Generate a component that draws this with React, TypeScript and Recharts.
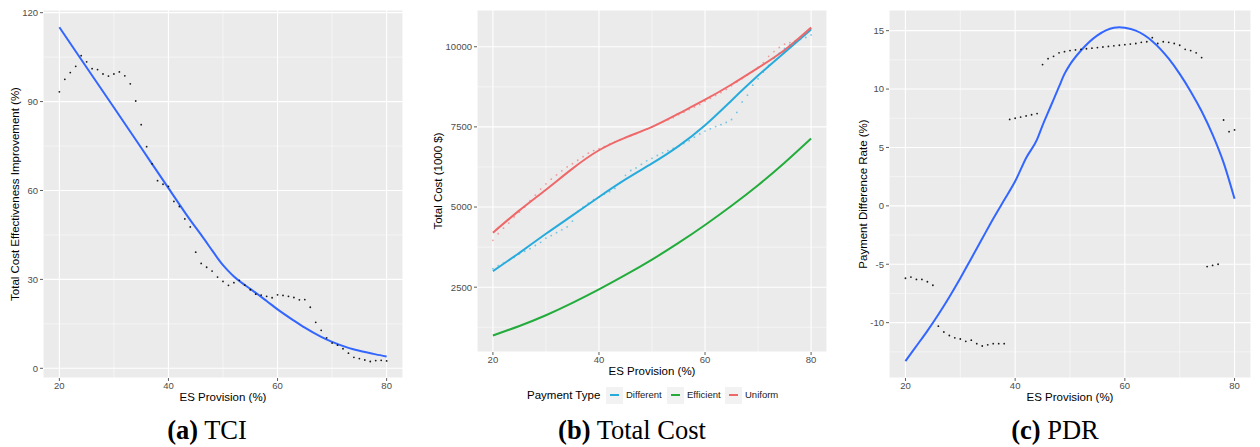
import React from 'react';
import { ComposedChart, Line, Scatter, XAxis, YAxis, CartesianGrid, Label, ReferenceLine } from 'recharts';

const SANS = '"Liberation Sans", Arial, sans-serif';
const SERIF = '"Liberation Serif", "Times New Roman", serif';

// ES provision levels (%), one observation per level
const provision = [
  20, 21, 22, 23, 24, 25, 26, 27, 28, 29, 30, 31, 32, 33, 34, 35, 36, 37, 38, 39, 40,
  41, 42, 43, 44, 45, 46, 47, 48, 49, 50, 51, 52, 53, 54, 55, 56, 57, 58, 59, 60,
  61, 62, 63, 64, 65, 66, 67, 68, 69, 70, 71, 72, 73, 74, 75, 76, 77, 78, 79, 80,
];
const provisionTicks = [20, 40, 60, 80];
const provisionMinor = [30, 50, 70];
const provisionDomain: [number, number] = [17, 83];

// (a) Total cost effectiveness improvement (%)
const tciObserved = [
  93.3, 97.5, 99.8, 101.9, 105.5, 103.4, 101.1, 100.8, 99.3, 98.6, 99.3,
  100.0, 98.7, 96.0, 90.2, 82.2, 74.8, 69.0, 63.3, 62.1, 61.4,
  56.3, 54.6, 50.4, 47.7, 39.2, 35.4, 34.1, 32.8, 30.8, 29.3,
  28.0, 28.9, 29.7, 28.1, 26.5, 25.0, 24.7, 24.3, 23.8, 24.8,
  24.6, 24.3, 23.9, 23.1, 23.2, 20.6, 15.5, 12.8, 10.3, 8.5,
  7.8, 6.6, 5.1, 3.7, 3.3, 2.8, 2.3, 2.6, 2.7, 2.5,
];
const tciSmoothX = [20, 25, 30, 35, 40, 44, 46, 48, 49, 50, 51, 52, 54, 55, 58, 60, 63, 65, 68, 70, 73, 75, 78, 80];
const tciSmooth = [115.1, 101.5, 88.0, 74.4, 60.8, 50.0, 45.0, 39.8, 37.2, 34.8, 32.8, 31.0, 28.1, 26.8, 22.7, 19.9, 16.1, 13.7, 10.6, 8.9, 6.9, 5.9, 4.7, 4.0];
const tciTicks = [0, 30, 60, 90, 120];
const tciMinor = [15, 45, 75, 105];
const tciDomain: [number, number] = [-3.27, 120.9];

// (b) Total cost (1000 $) by payment type
const paymentTypes = ['Different', 'Efficient', 'Uniform'];
const paymentColors = ['#27ABDC', '#23AC3C', '#EF6869'];
const costSmoothX = [20, 25, 30, 35, 40, 45, 50, 55, 60, 65, 70, 75, 80];
const differentSmooth = [3000, 3572, 4166, 4739, 5312, 5860, 6360, 6900, 7552, 8326, 9101, 9824, 10540];
const efficientSmooth = [992, 1290, 1625, 2010, 2430, 2880, 3360, 3880, 4440, 5040, 5680, 6380, 7135];
const uniformSmooth = [4200, 4895, 5541, 6198, 6771, 7167, 7500, 7913, 8347, 8822, 9339, 9897, 10599];
const differentObserved = [
  3080, 3170, 3250, 3340, 3430, 3540, 3620, 3700, 3800, 3900, 4030,
  4110, 4200, 4290, 4380, 4560, 4860, 5000, 5120, 5230, 5310,
  5400, 5480, 5580, 5760, 5990, 6140, 6220, 6330, 6440, 6520,
  6610, 6690, 6760, 6830, 6900, 6980, 7070, 7180, 7280, 7370,
  7440, 7510, 7570, 7640, 7730, 7950, 8280, 8490, 8800, 9000,
  9210, 9420, 9640, 9790, 9950, 10060, 10140, 10230, 10290, 10370,
];
const uniformObserved = [
  3960, 4170, 4340, 4500, 4690, 4840, 5000, 5200, 5370, 5560, 5720,
  5870, 6000, 6130, 6250, 6350, 6460, 6570, 6680, 6760, 6820,
  6880, 6960, 7030, 7100, 7170, 7230, 7290, 7360, 7430, 7500,
  7580, 7650, 7720, 7790, 7880, 7960, 8040, 8120, 8200, 8300,
  8390, 8480, 8570, 8670, 8780, 8900, 9010, 9120, 9230, 9360,
  9500, 9700, 9850, 9980, 10080, 10130, 10190, 10270, 10420, 10560,
];
const costTicks = [2500, 5000, 7500, 10000];
const costMinor = [1250, 3750, 6250, 8750];
const costDomain: [number, number] = [478, 11146];

// (c) Payment difference rate (%)
const pdrObserved = [
  -6.2, -6.1, -6.3, -6.3, -6.5, -6.8, -10.3, -10.8, -11.1, -11.3, -11.4,
  -11.6, -11.5, -11.8, -12.0, -11.9, -11.8, -11.8, -11.8, 7.4, 7.5,
  7.6, 7.7, 7.8, 7.9, 12.1, 12.6, 12.8, 13.1, 13.2, 13.3,
  13.35, 13.4, 13.45, 13.5, 13.55, 13.6, 13.65, 13.7, 13.75, 13.8,
  13.85, 13.9, 14.0, 14.05, 14.4, 13.9, 14.05, 14.0, 13.9, 13.75,
  13.4, 13.3, 13.1, 12.7, -5.2, -5.1, -5.0, 7.35, 6.35, 6.5,
];
const pdrSmoothX = [20, 22, 24, 26, 28, 30, 32, 34, 36, 38, 40, 42, 44, 45, 46, 47, 48, 49, 50, 52, 55, 58, 59, 60, 62, 65, 68, 70, 72, 74, 76, 78, 80];
const pdrSmooth = [-13.3, -12.0, -10.7, -9.3, -7.8, -6.2, -4.5, -2.8, -1.1, 0.5, 2.1, 4.1, 5.7, 6.9, 8.0, 9.1, 10.2, 11.3, 12.1, 13.3, 14.6, 15.25, 15.3, 15.25, 15.0, 14.1, 12.6, 11.3, 9.8, 8.1, 6.1, 3.7, 0.6];
const pdrTicks = [-10, -5, 0, 5, 10, 15];
const pdrMinor = [-12.5, -7.5, -2.5, 2.5, 7.5, 12.5];
const pdrDomain: [number, number] = [-14.74, 16.77];

const pairs = (xs: number[], ys: number[]) => xs.map((x, i) => ({ x, y: ys[i] }));

const SMOOTH_BLUE = '#3366FF';
const PANEL_W = 420;
const CHART_H = 410;
const PLOT_TOP = 10;

const dotShape = (color: string, r: number, opacity: number) => (props: any) => (
  <circle cx={props.cx} cy={props.cy} r={r} fill={color} fillOpacity={opacity} />
);

type PanelProps = {
  left: number;
  yAxisWidth: number;
  rightGap: number;
  plotBottom: number;
  yDomain: [number, number];
  yTicks: number[];
  yMinor: number[];
  yTitle: string;
  yTitleX: number;
  children: React.ReactNode;
};

function Panel(p: PanelProps) {
  const midY = (PLOT_TOP + p.plotBottom) / 2;
  const midX = (p.yAxisWidth + PANEL_W - p.rightGap) / 2;
  const tickStyle = { fill: '#4D4D4D', fontSize: 9.5, fontFamily: SANS };
  const tickLine = { stroke: '#333333', strokeWidth: 0.8 };
  return (
    <div style={{ position: 'absolute', left: p.left, top: 0 }}>
      <ComposedChart
        width={PANEL_W}
        height={CHART_H}
        margin={{ top: PLOT_TOP, right: p.rightGap, bottom: 0, left: 0 }}
      >
        <CartesianGrid fill="#EBEBEB" stroke="#FFFFFF" strokeWidth={1.1} />
        {provisionMinor.map((v) => (
          <ReferenceLine key={`vx${v}`} x={v} stroke="#FFFFFF" strokeWidth={0.5} />
        ))}
        {p.yMinor.map((v) => (
          <ReferenceLine key={`hy${v}`} y={v} stroke="#FFFFFF" strokeWidth={0.5} />
        ))}
        <XAxis
          type="number"
          dataKey="x"
          domain={provisionDomain}
          ticks={provisionTicks}
          allowDataOverflow
          height={CHART_H - p.plotBottom}
          tickSize={3}
          tickMargin={1}
          axisLine={false}
          tickLine={tickLine}
          tick={tickStyle}
        >
          <Label
            content={() => (
              <text
                x={midX}
                y={p.plotBottom + 19}
                textAnchor="middle"
                dominantBaseline="central"
                fontSize={11.5}
                fontFamily={SANS}
                fill="#000"
              >
                ES Provision (%)
              </text>
            )}
          />
        </XAxis>
        <YAxis
          type="number"
          dataKey="y"
          domain={p.yDomain}
          ticks={p.yTicks}
          allowDataOverflow
          width={p.yAxisWidth}
          tickSize={3}
          tickMargin={2}
          axisLine={false}
          tickLine={tickLine}
          tick={tickStyle}
        >
          <Label
            content={() => (
              <text
                x={p.yTitleX}
                y={midY}
                transform={`rotate(-90 ${p.yTitleX} ${midY})`}
                textAnchor="middle"
                dominantBaseline="central"
                fontSize={11.5}
                fontFamily={SANS}
                fill="#000"
              >
                {p.yTitle}
              </text>
            )}
          />
        </YAxis>
        {p.children}
      </ComposedChart>
    </div>
  );
}

const captionStyle: React.CSSProperties = {
  position: 'absolute',
  top: 416,
  width: 300,
  textAlign: 'center',
  fontFamily: SERIF,
  fontSize: 26.5,
  lineHeight: '28px',
  color: '#000',
  whiteSpace: 'nowrap',
};

function Caption({ center, tag, title }: { center: number; tag: string; title: string }) {
  return (
    <div style={{ ...captionStyle, left: center - 150 }}>
      <b>({tag})</b> {title}
    </div>
  );
}

const legendKeyLefts = [606, 667, 725];

function PaymentLegend() {
  return (
    <div style={{ position: 'absolute', left: 0, top: 386, width: 1260, height: 18, fontFamily: SANS }}>
      <span style={{ position: 'absolute', left: 527, top: 0, fontSize: 11.5, lineHeight: '18px', whiteSpace: 'nowrap' }}>
        Payment Type
      </span>
      {paymentTypes.map((name, i) => (
        <React.Fragment key={name}>
          <span
            style={{ position: 'absolute', left: legendKeyLefts[i], top: 0.5, width: 17, height: 17, background: '#F2F2F2' }}
          >
            <span
              style={{ position: 'absolute', left: 4, top: 7.5, width: 9, height: 2, background: paymentColors[i] }}
            />
          </span>
          <span
            style={{
              position: 'absolute',
              left: legendKeyLefts[i] + 20,
              top: 0,
              fontSize: 9.5,
              lineHeight: '18px',
              color: '#1A1A1A',
              whiteSpace: 'nowrap',
            }}
          >
            {name}
          </span>
        </React.Fragment>
      ))}
    </div>
  );
}

export default function App() {
  const differentSmoothData = pairs(costSmoothX, differentSmooth);
  const efficientSmoothData = pairs(costSmoothX, efficientSmooth);
  const uniformSmoothData = pairs(costSmoothX, uniformSmooth);
  return (
    <div style={{ position: 'absolute', left: 0, top: 0, width: 1260, height: 447, background: '#FFFFFF', overflow: 'hidden' }}>
      <Panel
        left={0}
        yAxisWidth={43}
        rightGap={17}
        plotBottom={378}
        yDomain={tciDomain}
        yTicks={tciTicks}
        yMinor={tciMinor}
        yTitle="Total Cost Effectiveness Improvement (%)"
        yTitleX={15}
      >
        <Scatter data={pairs(provision, tciObserved)} shape={dotShape('#000000', 0.9, 0.9)} isAnimationActive={false} />
        <Line
          data={pairs(tciSmoothX, tciSmooth)}
          dataKey="y"
          type="monotone"
          stroke={SMOOTH_BLUE}
          strokeWidth={2}
          dot={false}
          activeDot={false}
          isAnimationActive={false}
        />
      </Panel>

      <Panel
        left={420}
        yAxisWidth={57}
        rightGap={13}
        plotBottom={352}
        yDomain={costDomain}
        yTicks={costTicks}
        yMinor={costMinor}
        yTitle="Total Cost (1000 $)"
        yTitleX={18}
      >
        <Scatter data={pairs(provision, uniformObserved)} shape={dotShape(paymentColors[2], 0.9, 0.6)} isAnimationActive={false} />
        <Scatter data={pairs(provision, differentObserved)} shape={dotShape(paymentColors[0], 0.9, 0.6)} isAnimationActive={false} />
        <Line data={differentSmoothData} dataKey="y" type="natural" stroke={paymentColors[0]} strokeWidth={2} dot={false} activeDot={false} isAnimationActive={false} />
        <Line data={efficientSmoothData} dataKey="y" type="natural" stroke={paymentColors[1]} strokeWidth={2} dot={false} activeDot={false} isAnimationActive={false} />
        <Line data={uniformSmoothData} dataKey="y" type="natural" stroke={paymentColors[2]} strokeWidth={2} dot={false} activeDot={false} isAnimationActive={false} />
      </Panel>

      <Panel
        left={840}
        yAxisWidth={49}
        rightGap={9}
        plotBottom={378}
        yDomain={pdrDomain}
        yTicks={pdrTicks}
        yMinor={pdrMinor}
        yTitle="Payment Difference Rate (%)"
        yTitleX={23}
      >
        <Scatter data={pairs(provision, pdrObserved)} shape={dotShape('#000000', 0.9, 0.9)} isAnimationActive={false} />
        <Line
          data={pairs(pdrSmoothX, pdrSmooth)}
          dataKey="y"
          type="monotone"
          stroke={SMOOTH_BLUE}
          strokeWidth={2}
          dot={false}
          activeDot={false}
          isAnimationActive={false}
        />
      </Panel>

      <PaymentLegend />

      <Caption center={207} tag="a" title="TCI" />
      <Caption center={632} tag="b" title="Total Cost" />
      <Caption center={1055} tag="c" title="PDR" />
    </div>
  );
}
